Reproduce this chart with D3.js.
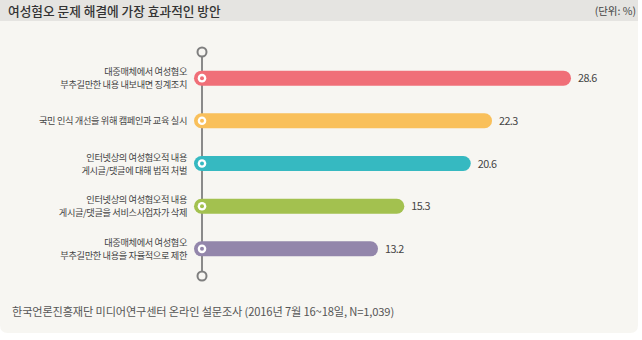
<!DOCTYPE html>
<html><head><meta charset="utf-8">
<script src="https://cdn.jsdelivr.net/npm/d3@7"></script>
<style>
html,body{margin:0;padding:0;background:#fff;}
svg{display:block;}
</style></head>
<body>
<svg id="c" width="642" height="340"></svg>
<script>
const categories = [
  ["대중매체에서 여성혐오", "부추길만한 내용 내보내면 징계조치"],
  ["국민 인식 개선을 위해 캠페인과 교육 실시"],
  ["인터넷상의 여성혐오적 내용", "게시글/댓글에 대해 법적 처벌"],
  ["인터넷상의 여성혐오적 내용", "게시글/댓글을 서비스사업자가 삭제"],
  ["대중매체에서 여성혐오", "부추길만한 내용을 자율적으로 제한"]
];
const values = [28.6, 22.3, 20.6, 15.3, 13.2];
const valueLabels = ["28.6", "22.3", "20.6", "15.3", "13.2"];
const colors = ["#f06f78", "#f9c05b", "#36b9c1", "#a3c14f", "#9386ab"];
const title = "여성혐오 문제 해결에 가장 효과적인 방안";
const unit = "(단위: %)";
const source = "한국언론진흥재단 미디어연구센터 온라인 설문조사 (2016년 7월 16~18일, N=1,039)";

const svg = d3.select("#c");
const font = "'Noto Sans CJK KR','Noto Sans',sans-serif";

// card
const W = 638, H = 333, r = 8;
svg.append("path")
  .attr("d", `M0,0 H${W} V${H - r} Q${W},${H} ${W - r},${H} H${r} Q0,${H} 0,${H - r} Z`)
  .attr("fill", "#f7f6f2");
svg.append("rect").attr("x", 0).attr("y", 0).attr("width", W).attr("height", 21).attr("fill", "#e5e4e1");

svg.append("text").attr("x", 8).attr("y", 15.5).text(title)
  .attr("font-family", font).attr("font-size", 12.7).attr("font-weight", 500).attr("fill", "#333");
svg.append("text").attr("x", 636).attr("y", 15).attr("text-anchor", "end").text(unit)
  .attr("font-family", font).attr("font-size", 10.5).attr("fill", "#444");

const x = d3.scaleLinear().domain([0, 28.6]).range([212.6, 571]);
const y = d3.scaleBand().domain(d3.range(values.length)).range([57, 270]).paddingInner(0.65).paddingOuter(0.32);
const axisX = 202;
const barStart = 194;

// axis line
svg.append("line").attr("x1", axisX).attr("x2", axisX).attr("y1", 52).attr("y2", 276)
  .attr("stroke", "#8a8a8a").attr("stroke-width", 2);
[52, 276].forEach(cy => svg.append("circle").attr("cx", axisX).attr("cy", cy).attr("r", 4.5)
  .attr("fill", "#f7f6f2").attr("stroke", "#7f7f7f").attr("stroke-width", 2));

const g = svg.append("g");
values.forEach((v, i) => {
  const cy = y(i) + y.bandwidth() / 2;
  const bh = 15;
  g.append("rect").attr("x", barStart).attr("y", cy - bh / 2).attr("width", x(v) - barStart)
    .attr("height", bh).attr("rx", bh / 2).attr("fill", colors[i]);
  g.append("circle").attr("cx", axisX).attr("cy", cy).attr("r", 4.3).attr("fill", "#fff");
  g.append("circle").attr("cx", axisX).attr("cy", cy).attr("r", 2).attr("fill", colors[i]);
  g.append("text").attr("x", x(v) + 7).attr("y", cy + 4).text(valueLabels[i])
    .attr("font-family", font).attr("font-size", 10.8).attr("letter-spacing", -0.6).attr("fill", "#444");
  const lines = categories[i];
  const lh = 13;
  lines.forEach((t, j) => {
    g.append("text").attr("x", 187).attr("y", cy + 3.5 + (j - (lines.length - 1) / 2) * lh)
      .attr("text-anchor", "end").text(t)
      .attr("font-family", font).attr("font-size", 9.2).attr("letter-spacing", -0.35).attr("fill", "#444");
  });
});

svg.append("text").attr("x", 12).attr("y", 316).text(source)
  .attr("font-family", font).attr("font-size", 11.2).attr("letter-spacing", -0.15).attr("fill", "#555");
</script>
</body></html>
